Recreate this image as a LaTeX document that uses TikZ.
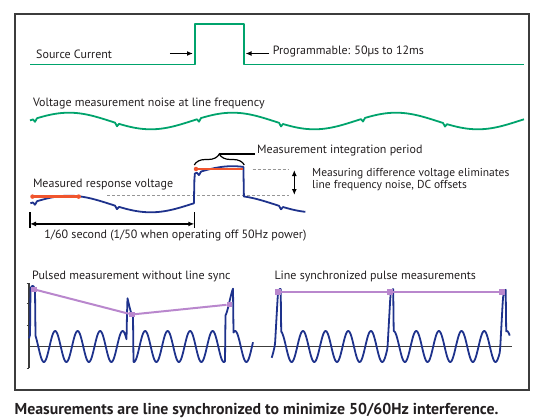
\documentclass[tikz,border=0pt]{standalone}
\usepackage{fontspec}
\setmainfont{PT Sans}
\usetikzlibrary{
    arrows.meta,
    decorations.pathreplacing
}
\definecolor{srcgreen}{RGB}{0,163,108}
\definecolor{respblue}{RGB}{30,50,140}
\definecolor{measred}{RGB}{240,85,45}
\definecolor{syncpurple}{RGB}{185,135,205}
\definecolor{framegray}{RGB}{60,60,60}
\definecolor{dashgray}{RGB}{150,150,150}
\definecolor{textblack}{RGB}{35,31,32}
\tikzset{
  every node/.style={
    inner sep=0pt,
    text=textblack,
    font=\fontsize{12}{12.3}\selectfont
  },
  txt/.style={anchor=west},
  greenline/.style={srcgreen, line width=1.8pt, line join=round},
  blueline/.style={respblue, line width=1.8pt, line join=round},
  redline/.style={measred, line width=2.6pt},
  reddot/.style={circle, fill=measred, minimum size=4.5pt},
  purpleline/.style={syncpurple, line width=2pt},
  sqmark/.style={rectangle, fill=syncpurple, minimum size=5.5pt},
  axisline/.style={framegray, line width=1.4pt},
  arr/.style={-{Latex[length=6pt,width=5pt]}, line width=1.2pt, black},
  darr/.style={{Latex[length=6pt,width=5pt]}-{Latex[length=6pt,width=5pt]}, line width=1.2pt, black},
  refdash/.style={dashgray, line width=1pt, dash pattern=on 3pt off 2pt}
}

\begin{document}
\begin{tikzpicture}[x=1pt, y=-1pt,
    declare function={
      noise(\x)=8.3*cos(2.2018*(\x-69));
      notch(\x)=max(0,3-1.5*abs(mod(\x-33,82)-2));
      pls(\x,\a,\b,\r)=(\x>=\a)*(\x<=\b)*min(1,(\x-\a)/\r);
    }]
    \useasboundingbox (0,0) rectangle (541,420);
    \draw[framegray, line width=2pt] (14.5,13.8) rectangle (529,390.4);

    %-------------------------
    % source current
    %-------------------------
    \node[txt] (srclab) at (36,54) {Source Current};
    \node[txt] (prog) at (272.6,52) {Programmable: 50µs to 12ms};
    \draw[greenline] (30,64.5) -- (194.6,64.5) -- (194.6,24.2)
        -- (244.3,24.2) -- (244.3,64.5) -- (524,64.5);
    \coordinate (arrL) at (169.8,53.5);
    \coordinate (edgeL) at (193,53.5);
    \coordinate (edgeR) at (245.5,53.5);
    \draw[arr] (arrL) -- (edgeL);
    \draw[arr, shorten <=3.5pt] (prog.west |- edgeR) -- (edgeR);

    %-------------------------
    % line frequency noise
    %-------------------------
    \node[txt] (noiselab) at (32.8,103.5) {Voltage measurement noise at line frequency};
    \draw[greenline] plot[domain=30:524, samples=989]
        (\x, {121 - noise(\x) + notch(\x)});

    %-------------------------
    % measured response voltage
    %-------------------------
    \node[txt] (intlab) at (257,150.7) {Measurement integration period};
    \node[txt] (resplab) at (32.8,184.2) {Measured response voltage};
    \node[txt, align=left, font=\fontsize{11.5}{12.2}\selectfont] (difflab) at (312,179.8)
        {Measuring difference voltage eliminates\\line frequency noise, DC offsets};
    \node[txt] (periodlab) at (44.2,236) {1/60 second (1/50 when operating off 50Hz power)};

    \draw[refdash] (107,195) -- (289,195);
    \draw[refdash] (252.7,169) -- (289,169);
    \draw[blueline] plot[domain=30.4:305.4, samples=551]
        (\x, {204 - noise(\x) + notch(\x) - 29.5*pls(\x,194,243.5,0.5)});

    \node[reddot] (r1a) at (32.5,196.6) {};
    \node[reddot] (r1b) at (78.7,196.6) {};
    \node[reddot] (r2a) at (196,169) {};
    \coordinate (r2b) at (243,169);
    \draw[redline] (r1a.center) -- (r1b.center);
    \draw[redline] (r2a.center) -- (r2b);

    \draw[decorate, decoration={brace, amplitude=11pt}, line width=1.2pt]
        (194.3,165) -- (244.3,165);
    \coordinate (bracetip) at (219.3,154);
    \draw[line width=1.2pt, shorten >=2.5pt] (bracetip) -- (intlab.west |- bracetip);

    \coordinate (dtop) at (294.3,170);
    \coordinate (dbot) at (294.3,195);
    \draw[darr] (dtop) -- (dbot);

    \coordinate (spanL) at (30,223.9);
    \coordinate (spanR) at (194.3,223.9);
    \draw[line width=1.2pt] (30,212) -- (30,228.3);
    \draw[line width=1.2pt] (194.3,212) -- (194.3,228.3);
    \draw[darr] (spanL) -- (spanR);

    %-------------------------
    % pulsed measurements
    %-------------------------
    \node[txt] (freelab) at (32,276.2) {Pulsed measurement without line sync};
    \node[txt] (synclab) at (274.3,276.2) {Line synchronized pulse measurements};

    \draw[axisline] (29,283) -- (29,368);
    \foreach \ty in {283,303,325,368}
        \draw[axisline, line width=1pt] (26.5,\ty) -- (29,\ty);
    \draw[axisline] (29,346.5) -- (512.4,346.5);

    \draw[blueline] plot[domain=29:253, samples=449]
        (\x, {346.5 - 15.5*sin(16*(\x-27))
          - 45*(pls(\x,30,35,0.5)+pls(\x,126.7,133.3,0.5)+pls(\x,225,233,0.5))});
    \draw[blueline] plot[domain=271.7:509.7, samples=477]
        (\x, {346.5 - 15.5*cos(15.89*(\x-280.3))
          - 42*(pls(\x,275,281,3)+pls(\x,387.5,393.5,3)+pls(\x,500,506,3))});

    \node[sqmark] (m1) at (33.8,289.3) {};
    \node[sqmark] (m2) at (131.8,314.5) {};
    \node[sqmark] (m3) at (229.5,304.5) {};
    \draw[purpleline] (m1) -- (m2) -- (m3);

    \node[sqmark] (s1) at (277.8,291.8) {};
    \node[sqmark] (s2) at (390.2,291.8) {};
    \node[sqmark] (s3) at (502,291.8) {};
    \draw[purpleline] (s1) -- (s2) -- (s3);

    \node[txt, font=\bfseries\fontsize{15.8}{17}\selectfont] (caption) at (14.5,410)
        {Measurements are line synchronized to minimize 50/60Hz interference.};
\end{tikzpicture}
\end{document}
